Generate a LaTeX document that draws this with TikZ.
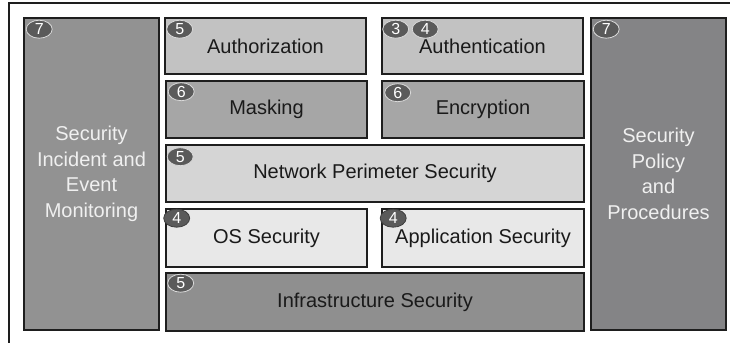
\documentclass[tikz,border=0pt]{standalone}
\usepackage{fontspec}
\setmainfont{Liberation Sans}
\usetikzlibrary{shapes.geometric,calc}
\definecolor{edge}{HTML}{1E1E1E}
\definecolor{ink}{HTML}{1A1A1A}
\definecolor{sidefill}{HTML}{929292}
\definecolor{rightfill}{HTML}{848486}
\definecolor{topfill}{HTML}{C2C2C2}
\definecolor{midfill}{HTML}{A6A6A6}
\definecolor{netfill}{HTML}{D5D5D5}
\definecolor{osfill}{HTML}{E8E8E8}
\definecolor{infrafill}{HTML}{8F8F8F}
\definecolor{badgefill}{HTML}{5A5A5A}
\tikzset{
  layer/.style={draw=edge, line width=1.6pt, rectangle, inner sep=0pt,
    text=ink, font=\fontsize{20}{22}\selectfont, align=center},
  side/.style={layer, text=white!94!black, font=\fontsize{20}{25.5}\selectfont},
  badge/.style={ellipse, draw=white!85!black, line width=0.8pt, fill=badgefill,
    minimum width=26pt, minimum height=18pt, inner sep=0pt, text=white,
    font=\fontsize{16}{16}\selectfont}
}
\begin{document}
\begin{tikzpicture}[x=1pt,y=-1pt]
\useasboundingbox (0,0) rectangle (730,343);
\coordinate (fa) at (730,3);
\coordinate (fb) at (9,3);
\coordinate (fc) at (9,343);
\draw[edge, line width=1.8pt] (fa) -- (fb) -- (fc);

\node[side, fill=sidefill, minimum width=135pt, minimum height=312pt] (siem) at (91.5,174)
  {Security\\Incident and\\Event\\Monitoring};
\node[side, fill=rightfill, minimum width=135pt, minimum height=312pt] (policy) at (658.5,174)
  {Security\\Policy\\and\\Procedures};

\node[layer, fill=topfill, minimum width=201pt, minimum height=56pt] (authz) at (265.5,46) {Authorization};
\node[layer, fill=topfill, minimum width=201pt, minimum height=56pt] (authn) at (482.5,46) {Authentication};
\node[layer, fill=midfill, minimum width=201pt, minimum height=57pt] (mask) at (266.5,109.5) {Masking};
\node[layer, fill=midfill, minimum width=202pt, minimum height=57pt] (enc) at (483,109.5) {Encryption};
\node[layer, fill=netfill, minimum width=418pt, minimum height=57pt] (net) at (375,173.5) {Network Perimeter Security};
\node[layer, fill=osfill, minimum width=201pt, minimum height=58pt] (os) at (266.5,238) {OS Security};
\node[layer, fill=osfill, minimum width=202pt, minimum height=58pt] (app) at (483,238) {Application Security};
\node[layer, fill=infrafill, minimum width=418pt, minimum height=58pt] (infra) at (375,302) {Infrastructure Security};

\node[badge] (b1) at ($(siem.north west)+(16,12)$) {7};
\node[badge] (b2) at ($(policy.north west)+(16,12)$) {7};
\node[badge] (b3) at ($(authz.north west)+(15.5,12)$) {5};
\node[badge] (b4) at ($(authn.north west)+(14.5,12)$) {3};
\node[badge] (b5) at ($(authn.north west)+(44,12)$) {4};
\node[badge] (b6) at ($(mask.north west)+(16,11.5)$) {6};
\node[badge] (b7) at ($(enc.north west)+(16.5,12.5)$) {6};
\node[badge] (b8) at ($(net.north west)+(15,12.5)$) {5};
\node[badge, draw=badgefill!70!black] (b9) at ($(os.north west)+(11.5,10)$) {4};
\node[badge, draw=badgefill!70!black] (b10) at ($(app.north west)+(12,10)$) {4};
\node[badge] (b11) at ($(infra.north west)+(15.5,11)$) {5};
\end{tikzpicture}
\end{document}
